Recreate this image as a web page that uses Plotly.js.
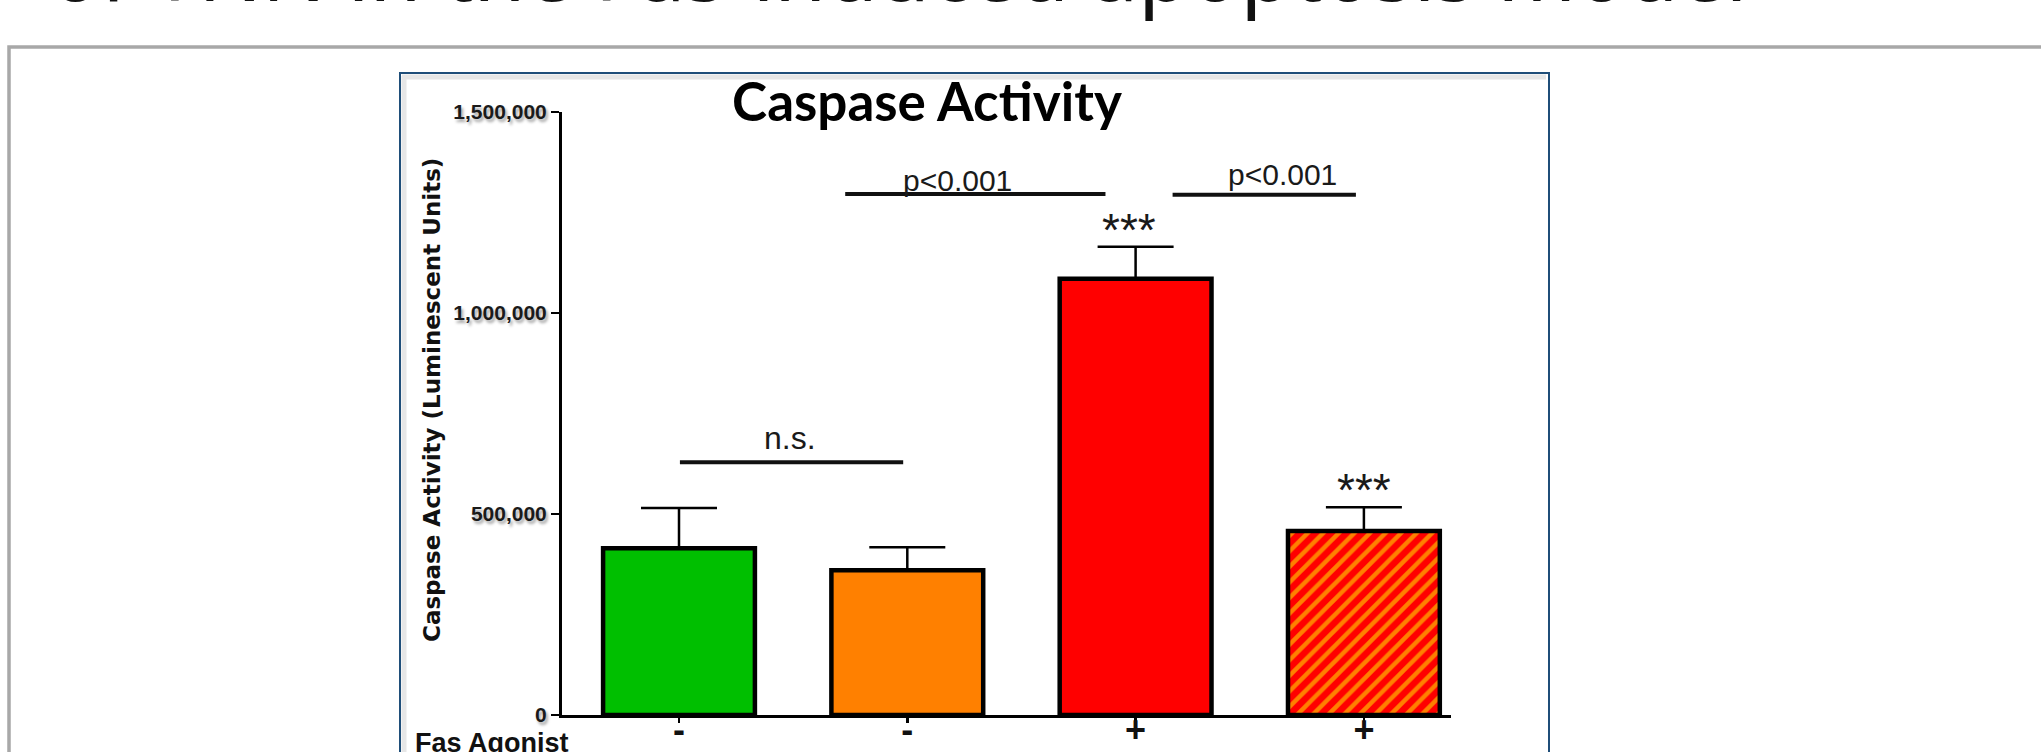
<!DOCTYPE html>
<html><head><meta charset="utf-8">
<script src="https://cdn.plot.ly/plotly-3.0.1.min.js"></script>
<style>html,body{margin:0;padding:0;background:#fff;overflow:hidden}#chart{width:2041px;height:752px}</style>
</head><body><div id="chart"></div>
<script>
// ---- data ----
const groupIndex = [0, 1, 2, 3];
const fasAgonist = ['-', '-', '+', '+'];
const caspaseActivity = [415000, 360000, 1085000, 458000];
const caspaseSEM = [100000, 57000, 80000, 59000];
const barColors = ['#00BF00', '#FF8000', '#FF0000', '#FF0000'];
const barPatterns = ['', '', '', '/'];
const hatchColor = '#FF8000';
const yTickVals = [0, 500000, 1000000, 1500000];
const yTickText = ['0', '500,000', '1,000,000', '1,500,000'];
const starLabels = ['', '', '***', '***'];
const sigLabels = ['n.s.', 'p<0.001', 'p<0.001'];

// ---- page geometry helpers (pixel -> paper) ----
const W = 2041, H = 752;
const M = {l: 562, r: 590, t: 112, b: 37};
const PW = W - M.l - M.r, PH = H - M.t - M.b;
const px = X => (X - M.l) / PW;
const py = Y => (H - M.b - Y) / PH;

const pick = (arr, idx) => idx.map(i => arr[i]);
const plainIdx = groupIndex.filter(i => !barPatterns[i]);
const hatchIdx = groupIndex.filter(i => barPatterns[i]);

const errStyle = {color: '#000', thickness: 2.5, width: 38};
const plainBars = {
  type: 'bar',
  x: pick(groupIndex, plainIdx),
  y: pick(caspaseActivity, plainIdx),
  width: 0.665,
  marker: {color: pick(barColors, plainIdx), line: {color: '#000', width: 4.5}},
  error_y: Object.assign({type: 'data', symmetric: false, array: pick(caspaseSEM, plainIdx),
    arrayminus: plainIdx.map(() => 0)}, errStyle),
  hoverinfo: 'skip', showlegend: false
};
const hatchedBars = hatchIdx.map(i => ({
  type: 'bar',
  x: [groupIndex[i]],
  y: [caspaseActivity[i]],
  width: 0.665,
  marker: {
    color: barColors[i],
    line: {color: '#000', width: 4.5},
    pattern: {shape: barPatterns[i], fillmode: 'replace', bgcolor: barColors[i], fgcolor: hatchColor,
              fgopacity: 1, size: 11, solidity: 0.4}
  },
  error_y: Object.assign({type: 'data', symmetric: false, array: [caspaseSEM[i]], arrayminus: [0]}, errStyle),
  hoverinfo: 'skip', showlegend: false
}));

const annFontArial = {family: 'Liberation Sans, Arial, sans-serif', color: '#1a1a1a'};
const annotations = [
  // stars above bars (from data)
  ...groupIndex.filter(i => starLabels[i]).map(i => ({
    x: i === 2 ? i - 0.03 : i, xref: 'x', y: caspaseActivity[i] + caspaseSEM[i], yref: 'y',
    yshift: 17, text: starLabels[i], showarrow: false,
    font: Object.assign({size: 46}, annFontArial), xanchor: 'center', yanchor: 'middle'
  })),
  {x: 0.487, xref: 'x', y: 689000, yref: 'y', text: sigLabels[0], showarrow: false,
   font: Object.assign({size: 32}, annFontArial), xanchor: 'center', yanchor: 'middle'},
  {x: 1.219, xref: 'x', y: 1330000, yref: 'y', text: sigLabels[1], showarrow: false,
   font: Object.assign({size: 30}, annFontArial), xanchor: 'center', yanchor: 'middle'},
  {x: 2.645, xref: 'x', y: 1344000, yref: 'y', text: sigLabels[2], showarrow: false,
   font: Object.assign({size: 30}, annFontArial), xanchor: 'center', yanchor: 'middle'},
  // y-axis title
  {x: px(432), xref: 'paper', y: py(400), yref: 'paper', text: 'Caspase Activity (Luminescent Units)',
   textangle: -90, showarrow: false, xanchor: 'center', yanchor: 'middle',
   font: {family: 'DejaVu Sans, sans-serif', size: 23, weight: 'bold', color: '#111'}},
  // row label
  {x: px(413), xref: 'paper', y: py(726), yref: 'paper', text: 'Fas Agonist', showarrow: false,
   font: {family: 'Liberation Sans, Arial, sans-serif', size: 27, weight: 'bold', color: '#111'},
   xanchor: 'left', yanchor: 'top'},
  // slide heading (cut off at the top of the picture)
  {x: px(48), xref: 'paper', y: py(28), yref: 'paper', text: 'of TNN in the Fas-induced apoptosis model',
   showarrow: false, font: {family: 'Noto Sans, sans-serif', size: 84, color: '#111'},
   xanchor: 'left', yanchor: 'bottom'}
];

const shapes = [
  // slide frame
  {type: 'rect', xref: 'paper', yref: 'paper', x0: px(9), x1: px(2060), y0: py(47), y1: py(790),
   line: {color: '#A8A8A8', width: 3.5}, fillcolor: 'rgba(0,0,0,0)', layer: 'below'},
  // figure box
  {type: 'rect', xref: 'paper', yref: 'paper', x0: px(400), x1: px(1549), y0: py(73), y1: py(790),
   line: {color: '#1F4E79', width: 2}, fillcolor: 'rgba(0,0,0,0)', layer: 'below'},
  {type: 'line', xref: 'paper', yref: 'paper', x0: px(404), x1: px(404), y0: py(76), y1: py(790),
   line: {color: '#E6E6E6', width: 5}, layer: 'below'},
  {type: 'line', xref: 'paper', yref: 'paper', x0: px(402), x1: px(1546), y0: py(77), y1: py(77),
   line: {color: '#E6E6E6', width: 5}, layer: 'below'},
  // significance bars
  {type: 'line', xref: 'x', yref: 'y', x0: 0.004, x1: 0.982, y0: 629000, y1: 629000,
   line: {color: '#111', width: 4}},
  {type: 'line', xref: 'x', yref: 'y', x0: 0.728, x1: 1.868, y0: 1296000, y1: 1296000,
   line: {color: '#111', width: 4}},
  {type: 'line', xref: 'x', yref: 'y', x0: 2.162, x1: 2.965, y0: 1294000, y1: 1294000,
   line: {color: '#111', width: 4}}
];

const layout = {
  width: W, height: H,
  margin: M,
  paper_bgcolor: '#fff', plot_bgcolor: 'rgba(0,0,0,0)',
  barmode: 'overlay',
  title: {
    text: 'Caspase Activity', xref: 'paper', yref: 'container', x: px(927), y: 1 - 102 / H,
    xanchor: 'center', yanchor: 'middle',
    font: {family: 'Lato, sans-serif', size: 53, weight: 'bold', color: '#000'}
  },
  xaxis: {
    range: [-0.5125, 3.3815], tickmode: 'array', tickvals: groupIndex, ticktext: fasAgonist,
    showline: true, linewidth: 3, linecolor: '#000', ticks: 'outside', ticklen: 5, tickwidth: 2.5, tickcolor: '#000',
    ticklabelstandoff: -24,
    tickfont: {family: 'Liberation Sans, Arial, sans-serif', size: 36, weight: 'bold', color: '#111'},
    showgrid: false, zeroline: false, fixedrange: true
  },
  yaxis: {
    range: [0, 1500000], tickmode: 'array', tickvals: yTickVals, ticktext: yTickText,
    showline: true, linewidth: 3, linecolor: '#000', ticks: 'outside', ticklen: 8, tickwidth: 2.5, tickcolor: '#000',
    tickfont: {family: 'Liberation Sans, Arial, sans-serif', size: 21, weight: 'bold', color: '#1a1a1a',
               shadow: '2px 3px 3px rgba(0,0,0,0.35)'},
    showgrid: false, zeroline: false, fixedrange: true
  },
  shapes: shapes,
  annotations: annotations
};

Plotly.newPlot('chart', [plainBars, ...hatchedBars], layout, {displayModeBar: false, staticPlot: true});
</script>
</body></html>
